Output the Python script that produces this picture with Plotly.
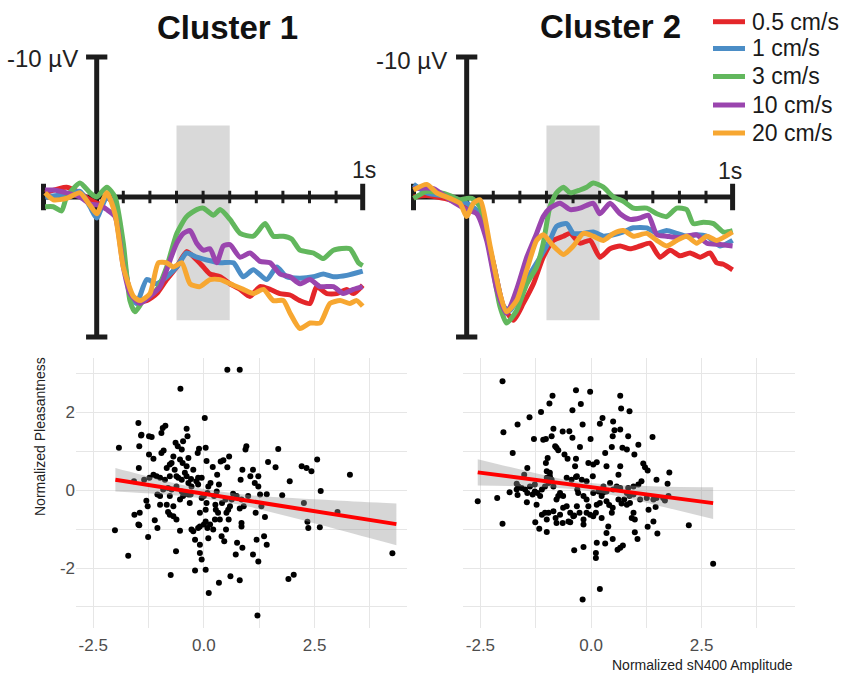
import plotly.graph_objects as go

# ---------------- ERP data (time in s, amplitude in µV; negative up) ----------------
SPEEDS = ["0.5 cm/s", "1 cm/s", "3 cm/s", "10 cm/s", "20 cm/s"]
COLORS = ["#e4262a", "#4b8dc6", "#62b75d", "#9a45ae", "#f7a731"]

c1_red_t = [-0.194,-0.113,-0.063,-0.025,0.013,0.038,0.069,0.100,0.138,0.188,0.226,0.263,0.301,0.338,0.376,0.401,0.426,0.464,0.501,0.539,0.576,0.614,0.652,0.689,0.727,0.764,0.802,0.827,0.865,0.902,0.940,0.965,1.0]
c1_red_v = [-0.3,-0.7,-0.3,0.2,0.5,0.0,0.7,4.5,7.4,7.4,6.9,5.9,5.0,3.9,4.5,5.0,5.5,5.7,6.2,6.6,7.1,6.4,6.6,6.9,7.0,7.4,7.6,6.4,6.9,6.9,6.6,6.9,6.3]
c1_blue_t = [-0.194,-0.113,-0.063,-0.025,0.0,0.038,0.069,0.100,0.125,0.150,0.188,0.226,0.263,0.301,0.338,0.376,0.414,0.464,0.514,0.551,0.589,0.639,0.677,0.714,0.764,0.815,0.852,0.890,0.940,1.0]
c1_blue_v = [0.0,-0.2,-0.4,0.7,1.5,0.0,0.5,4.0,6.9,7.6,5.9,6.2,5.7,5.0,4.0,4.3,4.5,4.7,4.7,5.7,5.2,5.9,5.0,5.7,5.8,5.7,5.5,5.7,5.6,5.3]
c1_green_t = [-0.194,-0.163,-0.132,-0.113,-0.063,-0.025,0.0,0.038,0.069,0.100,0.125,0.144,0.175,0.226,0.263,0.301,0.338,0.376,0.401,0.439,0.464,0.501,0.539,0.589,0.633,0.664,0.702,0.733,0.764,0.815,0.852,0.890,0.952,0.984,1.0]
c1_green_v = [0.7,0.7,1.0,0.0,-1.0,-0.3,0.0,-0.7,0.0,3.3,7.4,8.2,7.4,6.6,5.0,2.6,1.4,0.9,0.8,1.3,0.9,1.6,2.6,2.8,1.9,2.8,2.8,3.0,3.8,4.0,4.4,3.8,3.7,4.7,4.9]
c1_purple_t = [-0.194,-0.163,-0.113,-0.063,-0.025,0.013,0.038,0.069,0.100,0.125,0.163,0.200,0.238,0.276,0.301,0.326,0.351,0.376,0.401,0.426,0.451,0.476,0.501,0.539,0.576,0.614,0.652,0.689,0.727,0.764,0.802,0.840,0.890,0.927,0.965,1.0]
c1_purple_v = [-0.5,-0.5,-0.3,0.0,0.5,0.6,0.9,1.4,5.0,6.9,7.6,7.1,6.4,4.5,3.3,2.6,2.4,3.3,3.8,3.7,4.7,3.5,3.4,4.3,4.0,4.6,4.7,5.5,5.7,6.2,5.9,6.4,6.4,6.9,6.6,6.4]
c1_orange_t = [-0.194,-0.163,-0.113,-0.063,-0.025,0.0,0.038,0.069,0.100,0.138,0.163,0.200,0.232,0.263,0.288,0.320,0.351,0.388,0.426,0.464,0.514,0.551,0.589,0.627,0.664,0.702,0.727,0.764,0.802,0.840,0.877,0.915,0.952,0.977,1.0]
c1_orange_v = [-0.3,0.2,0.1,-0.3,0.6,1.2,-0.3,1.2,5.0,7.1,7.4,6.9,4.7,4.7,5.0,4.7,6.2,6.4,5.9,5.9,6.3,6.6,6.9,6.6,7.4,7.4,8.3,9.4,9.0,9.0,7.6,7.4,7.6,7.4,7.8]

c2_red_t = [-0.2,-0.150,-0.063,0.0,0.050,0.100,0.138,0.176,0.213,0.251,0.288,0.326,0.364,0.389,0.426,0.464,0.501,0.539,0.577,0.614,0.652,0.689,0.727,0.765,0.802,0.840,0.878,0.915,0.940,0.965,1.0]
c2_red_v = [0.0,-0.1,0.2,0.7,1.4,4.7,7.8,8.8,7.6,6.2,4.3,3.1,2.8,2.6,3.3,3.1,4.3,3.7,3.5,3.7,3.5,3.3,4.3,3.8,4.2,4.0,4.3,4.0,4.7,4.8,5.2]
c2_blue_t = [-0.2,-0.150,-0.063,0.0,0.050,0.100,0.138,0.163,0.201,0.238,0.276,0.313,0.338,0.376,0.401,0.439,0.476,0.514,0.552,0.589,0.627,0.677,0.715,0.752,0.790,0.827,0.865,0.903,0.953,1.0]
c2_blue_v = [-0.9,-0.3,0.0,0.45,1.2,4.7,7.8,8.1,6.9,5.5,4.3,3.1,2.1,1.9,2.6,2.6,2.5,2.8,2.7,2.5,2.2,2.2,2.6,2.4,2.6,2.8,2.7,2.8,3.5,3.1]
c2_green_t = [-0.2,-0.150,-0.100,-0.063,-0.025,0.0,0.019,0.050,0.088,0.125,0.150,0.188,0.226,0.263,0.288,0.313,0.338,0.364,0.389,0.426,0.451,0.476,0.514,0.552,0.589,0.627,0.677,0.715,0.752,0.790,0.827,0.852,0.890,0.928,0.965,1.0]
c2_green_v = [0.1,-0.4,-0.3,-0.1,0.2,0.1,0.1,0.7,4.0,7.8,9.0,8.1,6.2,5.0,3.3,0.7,-0.3,-0.7,-0.3,-0.5,-0.7,-1.0,-0.7,0.0,0.3,0.8,0.8,1.2,1.4,0.8,0.9,1.9,1.8,1.9,2.5,2.4]
c2_purple_t = [-0.2,-0.125,-0.063,0.0,0.038,0.075,0.113,0.150,0.188,0.226,0.263,0.288,0.313,0.351,0.389,0.426,0.476,0.501,0.539,0.577,0.614,0.652,0.683,0.715,0.752,0.790,0.827,0.865,0.903,0.953,1.0]
c2_purple_v = [-0.6,-0.6,0.2,0.9,1.2,3.1,6.6,8.3,6.6,4.3,2.6,1.4,0.8,0.45,0.9,0.8,0.45,1.2,0.45,1.2,1.6,1.5,1.3,2.7,2.8,2.9,2.8,2.7,3.3,3.4,3.5]
c2_orange_t = [-0.2,-0.150,-0.113,-0.063,-0.025,0.0,0.025,0.050,0.088,0.125,0.150,0.188,0.226,0.263,0.288,0.326,0.364,0.401,0.439,0.476,0.514,0.552,0.589,0.627,0.677,0.715,0.752,0.790,0.827,0.865,0.903,0.940,1.0]
c2_orange_v = [-0.5,-0.9,-0.3,0.1,0.45,1.4,0.45,0.2,3.5,6.9,8.2,7.4,5.2,3.1,2.7,3.5,4.1,3.5,2.6,2.8,3.1,2.6,2.4,2.8,2.6,3.1,3.5,3.1,2.8,3.3,2.8,3.1,2.5]

WINDOW_T = [0.3, 0.5]          # shaded analysis window (s)
WINDOW_V = [-5.1, 8.8]         # its vertical extent (µV)
TIME_RANGE = [-0.2, 1.0]
AMP_RANGE = [-10, 10]
TICK_TIMES = [0.1, 0.2, 0.3, 0.4, 0.5, 0.6, 0.7, 0.8, 0.9]

# ---------------- Scatter data ----------------
c1_x = [0.53,0.81,-0.53,0.02,-1.92,-2.01,-1.71,-0.75,-0.20,0.04,0.11,0.34,0.60,0.81,1.21,1.91,2.03,4.26,3.30,2.64,
        2.56,2.43,2.32,2.21,2.26,2.34,2.36,2.62,3.02,1.94,1.77,1.68,1.62,1.45,1.42,1.36,1.42,1.38,1.30,1.23,
        1.11,1.19,1.17,1.27,1.23,1.15,1.23,1.11,1.05,1.00,0.96,0.94,0.87,0.83,0.90,0.81,0.85,0.85,0.87,0.75,
        0.72,0.85,0.74,0.66,0.63,0.59,0.55,0.56,0.51,0.57,0.53,0.44,0.38,0.34,0.30,0.29,0.26,0.25,0.23,0.20,
        0.15,0.10,0.08,0.06,0.04,0.00,-0.05,-0.09,-0.09,-0.09,-0.09,-0.05,-0.13,0.04,0.00,0.08,0.10,0.14,0.21,0.27,
        0.32,0.36,0.40,0.46,0.50,0.49,0.41,0.04,0.06,-0.05,-0.13,-0.17,-0.14,-0.11,-0.24,-0.29,-0.30,-0.32,-0.28,-0.35,
        -0.39,-0.43,-0.39,-0.35,-0.37,-0.39,-0.47,-0.48,-0.54,-0.50,-0.59,-0.64,-0.69,-0.66,-0.73,-0.77,-0.84,-0.87,-0.93,-0.96,
        -0.91,-0.88,-0.81,-0.77,-0.84,-0.81,-0.77,-0.69,-0.62,-0.54,-0.63,-0.69,-0.54,-0.47,-0.43,-0.35,-0.50,-0.62,-0.58,-0.50,
        -1.07,-1.14,-0.99,-0.92,-0.99,-0.99,-1.05,-1.11,-1.05,-1.26,-1.46,-1.48,-1.57,-1.45,-1.30,-1.27,-1.23,-1.47,-1.46,-1.42,
        -1.48,-1.41,-1.24,-1.18,-1.24,-1.14,-0.96,-0.28,-0.24,-0.20,-0.62,-0.77,-0.73,-0.13,-1.58,-1.35]
c1_y = [3.10,3.10,2.61,1.86,1.09,-1.03,-1.68,-2.18,-2.06,-2.04,-2.64,-2.38,-2.21,-2.31,-3.22,-2.28,-2.17,-1.62,0.40,-0.02,
        0.79,0.49,0.57,0.62,-0.33,-0.81,-0.97,-0.95,-0.56,0.23,-0.13,1.06,0.59,0.73,-0.10,-1.18,-1.40,-0.69,-0.41,-1.83,
        -1.65,-1.27,-0.58,-0.11,0.10,0.19,0.36,0.53,0.36,-0.15,1.13,1.05,0.53,0.27,-0.41,-0.47,-0.84,-0.93,-1.48,-1.35,
        -1.65,-0.24,-0.15,-0.09,-0.24,-0.41,-0.50,-0.75,-0.58,0.87,0.59,0.77,0.74,0.15,0.40,-0.03,-0.37,-0.75,-0.15,0.60,
        0.19,0.10,-0.07,-0.33,-0.50,-0.15,-0.20,-0.58,-0.93,-1.40,-1.61,-1.78,-0.97,-0.80,-0.88,-0.97,-1.23,-0.88,-1.01,-0.50,
        -0.58,-0.75,-1.18,-1.31,-1.01,-0.24,-0.33,1.09,0.75,0.32,0.32,0.23,0.96,1.07,0.53,0.29,-0.11,-0.33,0.10,0.19,
        0.36,0.45,0.62,0.83,1.39,1.58,1.26,0.70,0.79,1.05,1.13,1.22,0.87,0.53,0.70,0.66,0.57,1.66,1.60,1.47,
        1.02,0.27,0.06,-0.15,-0.37,-0.56,-0.63,-0.67,-0.75,-1.04,-1.57,-0.41,-0.24,-0.15,-0.07,-0.11,-0.03,0.10,0.32,0.27,
        0.36,0.40,0.32,0.02,-0.15,-0.37,-0.11,-0.77,-0.97,-1.20,-0.90,-0.88,-0.63,-0.58,-0.27,-0.41,0.32,0.57,1.13,1.41,
        1.73,1.43,1.39,1.37,0.92,0.81,0.96,-1.01,-1.05,-1.27,0.36,0.36,0.02,0.15,0.23,0.27]

c2_x = [-2.00,-1.98,-1.66,-1.39,-1.77,-1.44,-2.56,-2.12,-2.00,-1.84,-1.66,-1.68,-1.64,-1.51,-1.44,-1.45,-1.32,-1.27,-1.21,-1.29,
        -1.26,-1.17,-1.13,-1.08,-1.02,-1.00,-1.02,-0.98,-0.94,-0.87,-0.85,-0.89,-0.81,-0.78,-0.74,-0.64,-0.60,-0.53,-0.49,-0.42,
        -0.42,-0.34,-0.23,-0.19,-0.25,-0.34,-0.36,-0.32,-0.38,-0.17,-0.01,-0.02,-0.06,0.05,0.04,0.13,0.26,0.20,0.32,0.35,
        0.50,0.53,0.49,0.47,0.66,0.68,0.87,0.66,0.84,0.71,0.81,0.98,1.07,1.18,1.22,1.28,1.39,1.48,1.77,1.73,
        0.66,0.62,0.58,0.43,0.35,0.28,0.24,0.20,0.13,0.11,0.05,-0.02,-0.10,-0.17,-0.17,-0.26,-0.32,-0.40,-0.47,-0.51,
        -0.55,-0.63,-0.70,-0.63,-0.70,-0.74,-0.78,-0.85,-0.89,-0.93,-1.00,-0.96,-1.04,-1.11,-1.15,-1.23,-1.11,-1.04,-0.96,-0.85,
        -0.80,-1.00,-0.78,-0.64,-0.47,-0.38,-0.31,-0.29,-0.17,-0.10,-0.06,0.05,0.17,0.28,0.35,0.41,0.49,0.47,0.39,0.35,
        0.49,0.32,0.24,0.13,0.11,0.11,0.20,-0.19,0.60,0.66,0.72,0.99,1.05,0.99,0.96,0.92,0.88,0.81,0.75,0.69,
        0.62,0.63,0.50,0.81,0.87,0.96,1.11,1.26,1.41,1.67,1.30,1.41,1.28,1.50,1.46,2.21,2.76,1.75,1.63,1.48,
        1.14,1.07,0.96,0.84,0.66,-1.27,-1.38,-1.49,-1.57,-1.68,-0.55,-0.44,-0.34,-0.21,-0.10,-1.00,-0.93]
c2_y = [2.80,1.49,1.69,1.88,0.96,0.57,-0.28,-0.20,-0.86,-0.05,-0.12,0.17,0.10,0.40,-0.07,-0.31,-0.11,-0.03,-0.07,1.32,
        -0.82,-0.99,2.01,1.30,1.32,-1.07,0.70,0.83,2.23,2.43,1.58,1.39,1.13,1.09,1.03,1.51,0.92,0.81,1.52,2.06,
        1.35,2.57,2.22,1.69,1.11,0.81,0.62,0.36,-1.54,-1.46,1.32,2.53,0.70,0.66,0.36,0.72,1.86,1.71,0.96,0.62,
        1.77,1.54,1.39,1.11,2.43,2.10,2.03,1.56,1.39,1.09,1.05,0.92,1.17,0.69,0.59,0.51,1.37,0.27,0.46,0.17,
        0.62,0.40,0.10,0.19,-0.03,0.10,-0.15,-0.33,-0.37,-0.58,-0.67,-0.63,-0.58,-0.75,-0.88,-0.58,-0.41,-0.67,-0.58,-0.80,
        -0.41,-0.45,-0.63,-0.15,-0.07,-0.15,-0.24,0.10,0.27,0.36,0.49,0.19,0.10,0.02,-0.15,-0.37,-0.63,-0.58,-0.58,-0.54,
        -0.71,-0.75,-0.84,-0.84,-0.82,-0.65,0.02,-0.07,-0.15,-0.24,-0.41,-0.07,-0.03,-0.05,-0.28,-0.38,-0.45,-0.58,-0.93,-1.10,
        -1.25,-1.37,-0.71,-1.35,-1.61,-1.74,-2.54,-2.81,-1.53,-1.48,-1.42,-1.08,-1.25,-0.75,-0.58,-0.71,-0.33,-0.37,-0.24,-0.34,
        -0.24,0.06,0.02,-0.07,-0.15,-0.11,-0.24,-0.20,-0.24,-0.26,-0.50,-0.80,-0.94,-1.11,-0.43,-0.90,-1.89,-0.15,-0.20,-0.20,
        0.23,0.15,0.10,0.06,0.06,0.15,0.10,0.02,0.06,0.02,0.32,0.27,0.34,0.27,0.23,0.32,0.45]

# regression fits: x, fitted value, CI upper, CI lower
c1_fit_x = [-2.0, -1.0, 0.0, 1.0, 2.0, 3.0, 4.35]
c1_fit_y = [0.27, 0.09, -0.09, -0.27, -0.45, -0.63, -0.87]
c1_fit_hi = [0.57, 0.28, 0.03, -0.12, -0.20, -0.26, -0.34]
c1_fit_lo = [-0.03, -0.10, -0.21, -0.42, -0.70, -1.00, -1.41]
c2_fit_x = [-2.56, -1.5, -0.5, 0.5, 1.5, 2.76]
c2_fit_y = [0.46, 0.30, 0.15, 0.01, -0.14, -0.33]
c2_fit_hi = [0.80, 0.51, 0.26, 0.14, 0.10, 0.08]
c2_fit_lo = [0.12, 0.10, 0.04, -0.13, -0.39, -0.74]

X_TICKS = [-2.5, 0.0, 2.5]
X_TICKTEXT = ["-2.5", "0.0", "2.5"]
X_MINOR = [-1.25, 1.25, 3.75]
Y_TICKS = [-2, 0, 2]
Y_TICKTEXT = ["-2", "0", "2"]
Y_MINOR = [-3, -1, 1, 3]

FONT = "Liberation Sans, Arial, sans-serif"
AX = "#1c1c1c"
W, H = 841, 675

fig = go.Figure()

erp = {
    1: [(c1_red_t, c1_red_v), (c1_blue_t, c1_blue_v), (c1_green_t, c1_green_v),
        (c1_purple_t, c1_purple_v), (c1_orange_t, c1_orange_v)],
    2: [(c2_red_t, c2_red_v), (c2_blue_t, c2_blue_v), (c2_green_t, c2_green_v),
        (c2_purple_t, c2_purple_v), (c2_orange_t, c2_orange_v)],
}

for panel, (xa, ya) in {1: ("x", "y"), 2: ("x2", "y2")}.items():
    # axes drawn as thick lines in data coordinates
    fig.add_trace(go.Scatter(x=[0, 0], y=AMP_RANGE, mode="lines", line=dict(color=AX, width=5),
                             xaxis=xa, yaxis=ya, showlegend=False, hoverinfo="skip"))
    fig.add_trace(go.Scatter(x=TIME_RANGE, y=[0, 0], mode="lines", line=dict(color=AX, width=5),
                             xaxis=xa, yaxis=ya, showlegend=False, hoverinfo="skip"))
    for a in AMP_RANGE:
        fig.add_trace(go.Scatter(x=[-0.04, 0.04], y=[a, a], mode="lines", line=dict(color=AX, width=5),
                                 xaxis=xa, yaxis=ya, showlegend=False, hoverinfo="skip"))
    for tt in TIME_RANGE:
        fig.add_trace(go.Scatter(x=[tt, tt], y=[-0.95, 0.95], mode="lines", line=dict(color=AX, width=5),
                                 xaxis=xa, yaxis=ya, showlegend=False, hoverinfo="skip"))
    tx, ty = [], []
    for tt in TICK_TIMES:
        tx += [tt, tt, None]
        ty += [-0.45, 0.45, None]
    fig.add_trace(go.Scatter(x=tx, y=ty, mode="lines", line=dict(color=AX, width=3),
                             xaxis=xa, yaxis=ya, showlegend=False, hoverinfo="skip"))
    fig.add_shape(type="rect", xref=xa, yref=ya, x0=WINDOW_T[0], x1=WINDOW_T[1],
                  y0=WINDOW_V[0], y1=WINDOW_V[1], fillcolor="#d9d9d9", line=dict(width=0), layer="below")
    for i, (t, v) in enumerate(erp[panel]):
        fig.add_trace(go.Scatter(x=t, y=v, mode="lines", name=SPEEDS[i],
                                 line=dict(color=COLORS[i], width=5, shape="spline", smoothing=0.6),
                                 xaxis=xa, yaxis=ya, showlegend=False))

# scatter panels
for (sx, sy, fx, fy, fhi, flo), (xa, ya) in [
        ((c1_x, c1_y, c1_fit_x, c1_fit_y, c1_fit_hi, c1_fit_lo), ("x3", "y3")),
        ((c2_x, c2_y, c2_fit_x, c2_fit_y, c2_fit_hi, c2_fit_lo), ("x4", "y4"))]:
    fig.add_trace(go.Scatter(x=sx, y=sy, mode="markers", marker=dict(color="black", size=6),
                             xaxis=xa, yaxis=ya, showlegend=False))
    fig.add_trace(go.Scatter(x=fx, y=fhi, mode="lines", line=dict(width=0, shape="spline"),
                             xaxis=xa, yaxis=ya, showlegend=False, hoverinfo="skip"))
    fig.add_trace(go.Scatter(x=fx, y=flo, mode="lines", line=dict(width=0, shape="spline"),
                             fill="tonexty", fillcolor="rgba(153,153,153,0.4)",
                             xaxis=xa, yaxis=ya, showlegend=False, hoverinfo="skip"))
    fig.add_trace(go.Scatter(x=fx, y=fy, mode="lines", line=dict(color="#ff0000", width=4),
                             xaxis=xa, yaxis=ya, showlegend=False))

hidden = dict(visible=False, fixedrange=True)
top_y = [1 - 351 / H, 1 - 43 / H]
fig.update_layout(
    width=W, height=H, margin=dict(l=0, r=0, t=0, b=0),
    paper_bgcolor="white", plot_bgcolor="white", showlegend=False,
    font=dict(family=FONT, color="#1a1a1a"),
    xaxis=dict(domain=[30.2 / W, 376.0 / W], range=[-0.25, 1.05], **hidden),
    yaxis=dict(domain=top_y, range=[11, -11], **hidden),
    xaxis2=dict(domain=[400.2 / W, 745.9 / W], range=[-0.25, 1.05], **hidden),
    yaxis2=dict(domain=top_y, range=[11, -11], anchor="x2", **hidden),
)

grid = "#e6e6e6"
common_x = dict(tickmode="array", tickvals=X_TICKS, ticktext=X_TICKTEXT, showgrid=True, gridcolor=grid,
                gridwidth=1, zeroline=False, showline=False, ticks="", ticklabelstandoff=5,
                tickfont=dict(size=17, color="#4d4d4d", family=FONT),
                minor=dict(tickmode="array", tickvals=X_MINOR, showgrid=True, gridcolor=grid, gridwidth=1, ticks=""))
common_y = dict(tickmode="array", tickvals=Y_TICKS, ticktext=Y_TICKTEXT, showgrid=True, gridcolor=grid,
                gridwidth=1, zeroline=False, showline=False, ticks="", range=[-3.54, 3.40],
                tickfont=dict(size=17, color="#4d4d4d", family=FONT),
                minor=dict(tickmode="array", tickvals=Y_MINOR, showgrid=True, gridcolor=grid, gridwidth=1, ticks=""))
bot_y = [1 - 628 / H, 1 - 358 / H]
fig.update_layout(
    xaxis3=dict(domain=[76 / W, 407 / W], range=[-2.89, 4.59], anchor="y3", **common_x),
    yaxis3=dict(domain=bot_y, anchor="x3", **common_y),
    xaxis4=dict(domain=[462.7 / W, 795 / W], range=[-2.90, 4.61], anchor="y4", **common_x),
    yaxis4=dict(domain=bot_y, anchor="x4", showticklabels=False, **common_y),
)

# legend (drawn manually so that row spacing matches)
LEG_ROWS = [21.7, 48.5, 76.5, 105, 133]
for name, col, ry in zip(SPEEDS, COLORS, LEG_ROWS):
    fig.add_shape(type="line", xref="paper", yref="paper", x0=713 / W, x1=745 / W,
                  y0=1 - ry / H, y1=1 - ry / H, line=dict(color=col, width=5))
    fig.add_annotation(text=name, x=750 / W, y=1 - ry / H, xref="paper", yref="paper",
                       xanchor="left", yanchor="middle", showarrow=False,
                       font=dict(size=23, color="#1a1a1a", family=FONT))

ann = [
    dict(text="<b>Cluster 1</b>", x=227.5 / W, y=1 - 28 / H, size=33, color="#111111"),
    dict(text="<b>Cluster 2</b>", x=610.5 / W, y=1 - 26.7 / H, size=33, color="#111111"),
    dict(text="-10 µV", x=42 / W, y=1 - 59 / H, size=24, color="#222222"),
    dict(text="-10 µV", x=411 / W, y=1 - 60 / H, size=24, color="#222222"),
    dict(text="1s", x=364 / W, y=1 - 170 / H, size=23, color="#222222"),
    dict(text="1s", x=730 / W, y=1 - 171 / H, size=23, color="#222222"),
]
for a in ann:
    fig.add_annotation(text=a["text"], x=a["x"], y=a["y"], xref="paper", yref="paper",
                       xanchor="center", yanchor="middle", showarrow=False,
                       font=dict(size=a["size"], color=a["color"], family=FONT))
fig.add_annotation(text="Normalized Pleasantness", x=40 / W, y=1 - 437 / H, xref="paper", yref="paper",
                   textangle=-90, showarrow=False, xanchor="center", yanchor="middle",
                   font=dict(size=14, color="#222222", family=FONT))
fig.add_annotation(text="Normalized sN400 Amplitude", x=795 / W, y=1 - 665 / H, xref="paper", yref="paper",
                   showarrow=False, xanchor="right", yanchor="middle",
                   font=dict(size=14, color="#222222", family=FONT))

fig.write_html("out.html", config={"displayModeBar": False},
               post_script="document.body.style.margin='0';document.body.style.overflow='hidden';")
